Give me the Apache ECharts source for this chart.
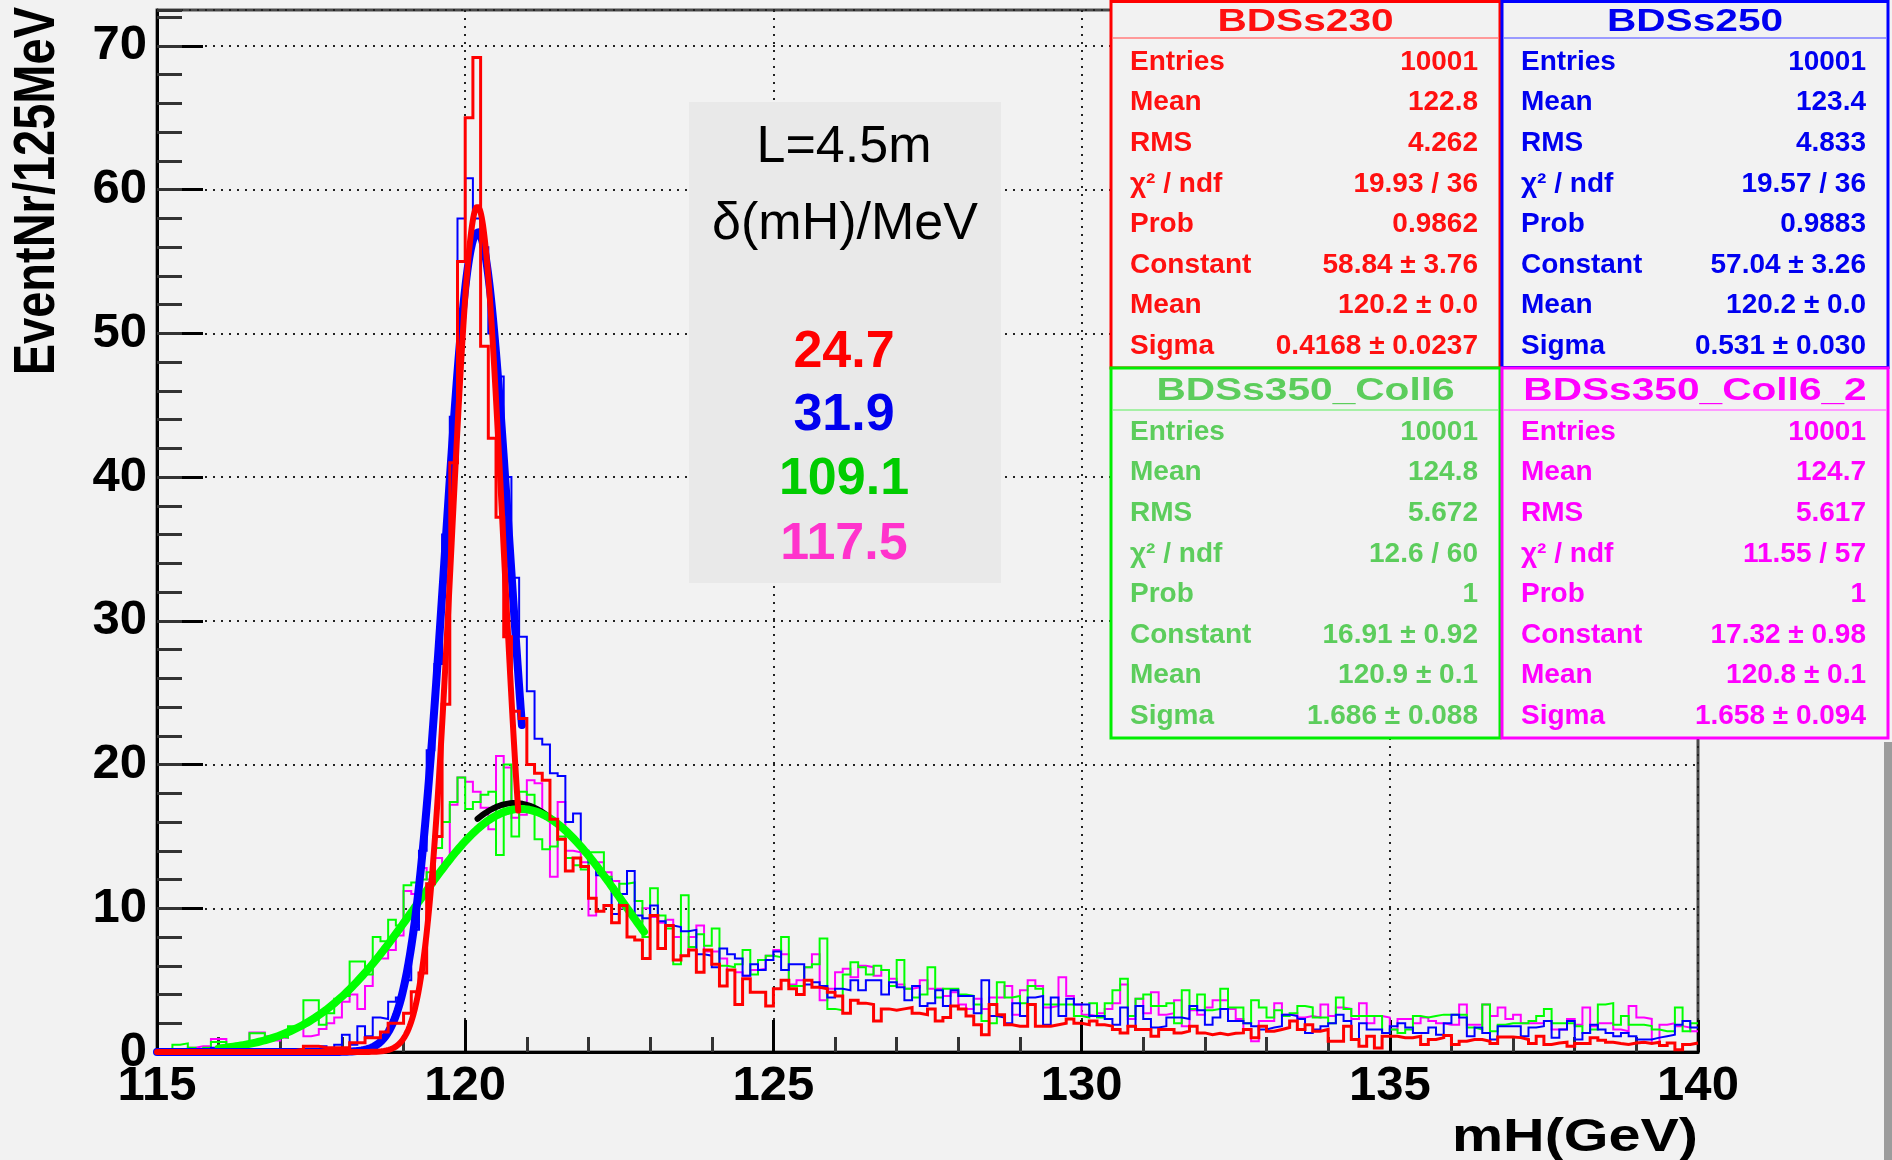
<!DOCTYPE html>
<html>
<head>
<meta charset="utf-8">
<script src="https://cdn.jsdelivr.net/npm/echarts/dist/echarts.min.js"></script>
<style>
  html, body { margin: 0; padding: 0; background: #f2f2f2; }
  #chart { width: 1892px; height: 1160px; }
</style>
</head>
<body>
<div id="chart"></div>
<script>
// Histogram binning: 200 bins of 125 MeV between 115 and 140 GeV
const BIN_LO = 115;
const BIN_W = 0.125;

// Bin contents (EventNr / 125 MeV) for the four beam-delivery configurations
const redCounts = [
  0,0,0,0,0,0,0,0,0,0,
  0,0,0,0,0,0,0.1,0.1,0.2,0.4,
  0.4,0.3,0.3,0.3,0.3,0.65,0.65,1.0,1.0,1.4,
  2.0,2.0,2.7,4.2,5.5,11.7,15.0,24.2,41.0,55.0,
  65.0,69.2,49.1,42.7,37.2,28.9,23.7,23.2,20.0,19.4,
  18.9,16.2,14.8,12.6,13.5,12.9,10.7,9.8,10.2,9.0,
  10.2,8.0,7.8,6.5,9.5,7.2,8.8,6.4,6.7,7.1,
  5.55,7.1,6.1,4.6,5.7,3.3,5.1,4.15,4.15,3.2,
  4.4,5.0,4.4,4.0,5.0,4.5,4.4,4.15,3.9,2.7,
  3.6,3.4,3.3,2.15,3.0,2.9,3.0,3.1,2.7,2.6,
  3.0,2.15,2.4,3.2,3.0,2.5,1.9,1.2,3.3,2.6,
  1.9,1.8,1.8,3.3,1.8,1.8,1.9,2.0,2.3,2.0,
  1.9,2.15,1.9,1.8,1.57,1.33,1.8,1.57,1.57,1.1,
  1.57,1.57,1.33,1.45,1.8,1.33,1.2,1.3,1.2,1.3,
  1.33,1.57,1.0,1.8,1.45,1.57,1.7,2.15,1.57,1.9,
  1.45,1.57,0.75,0.75,1.8,0.87,0.4,1.1,0.28,1.1,
  1.1,1.0,1.0,1.1,0.52,0.87,1.0,1.15,0.52,0.75,
  0.87,0.87,0.75,0.59,1.05,1.05,1.0,0.87,0.59,1.1,
  0.52,0.63,0.68,0.4,0.59,0.59,1.0,0.82,0.68,0.59,
  0.52,0.63,0.68,0.59,0.68,0.45,0.63,0.16,0.52,0.63
];

const blueCounts = [
  0,0,0.1,0,0.1,0,0.1,0.3,0.3,0.1,
  0,0.1,0.2,0.1,0.1,0.2,0.1,0.2,0.2,0.4,
  0.4,0.4,0.2,0.5,1.2,0.5,1.8,1.1,2.4,2.3,
  3.5,3.8,5.0,8.5,14.0,21.0,27.0,36.0,44.2,58.0,
  60.8,58.0,56.0,50.0,47.0,40.0,33.0,28.9,25.1,21.8,
  21.4,19.4,19.2,16.0,16.6,14.0,13.2,12.3,12.0,9.6,
  11.0,12.6,9.5,9.3,10.2,9.1,8.8,8.7,8.4,8.5,
  6.8,6.7,5.9,7.2,6.8,6.5,5.3,6.1,5.7,6.4,
  7.0,5.7,6.1,6.1,4.7,4.85,4.6,3.8,4.4,4.3,
  5.0,4.3,5.0,5.0,4.0,4.85,4.5,3.6,4.6,3.2,
  3.4,4.3,3.2,4.3,3.9,3.9,2.7,5.0,2.5,2.4,
  2.0,3.4,2.5,3.8,3.9,1.9,3.8,2.5,3.7,3.3,
  3.3,2.5,2.5,2.3,1.9,3.1,1.8,3.2,2.3,1.7,
  1.8,2.4,2.4,2.3,3.2,2.9,1.9,2.4,3.0,2.15,
  2.15,2.0,1.8,1.57,1.7,1.8,2.6,2.5,2.3,1.33,
  1.57,1.8,2.0,2.6,2.15,0.87,2.0,1.57,1.57,1.33,
  1.8,2.0,1.7,1.33,1.33,1.7,1.2,2.0,2.6,2.4,
  1.1,1.7,1.33,0.87,1.8,1.8,1.8,1.1,1.7,1.8,
  2.15,1.0,1.57,2.15,0.87,1.33,1.9,1.57,1.33,1.1,
  1.33,1.1,0.87,0.87,1.0,1.1,1.2,1.9,2.15,1.7
];

const greenCounts = [
  0.2,0.1,0.5,0.6,0.3,0.1,0.3,0.7,0.7,0.3,
  0.4,0.6,1.3,1.3,1.0,1.1,1.0,1.8,1.8,3.6,
  3.6,1.9,2.7,3.7,3.9,6.3,6.3,5.4,8.0,7.7,
  9.2,8.8,11.6,11.8,12.0,12.5,14.2,16.0,17.4,19.1,
  16.9,17.4,17.9,18.1,13.7,20.0,15.0,18.1,17.9,14.8,
  14.1,14.3,15.0,13.5,13.0,12.7,13.9,13.9,12.2,11.2,
  11.7,11.8,10.5,8.0,11.4,9.5,8.6,6.1,10.9,7.3,
  8.2,7.4,8.6,6.0,5.9,6.1,7.1,5.4,6.4,6.7,
  6.6,8.0,4.6,4.6,5.9,6.1,7.9,3.0,2.9,5.4,
  6.25,5.9,5.4,6.0,5.7,4.6,6.4,4.4,3.8,4.0,
  5.9,3.8,4.4,4.4,4.0,3.9,3.3,2.15,2.0,4.85,
  3.8,3.9,3.4,4.6,4.4,3.3,3.3,3.3,3.3,2.5,
  2.4,3.4,2.4,3.4,4.3,5.1,2.5,3.7,4.0,3.2,
  3.2,3.4,2.0,4.3,3.0,4.0,2.9,3.0,4.4,3.1,
  3.1,2.0,3.6,3.1,2.4,2.9,2.5,2.7,3.2,3.1,
  2.4,2.4,2.0,3.8,3.0,2.5,2.5,2.5,2.5,1.33,
  1.57,1.33,1.57,2.5,2.4,2.5,2.6,2.6,2.6,2.6,
  1.7,1.57,3.3,1.45,1.9,2.0,2.0,2.0,2.15,2.5,
  3.0,2.0,2.0,2.0,1.8,1.33,1.57,3.3,3.4,1.9,
  2.5,1.9,1.9,1.8,1.57,1.45,1.45,3.1,1.45,2.0
];

const magentaCounts = [
  0.1,0.1,0.2,0.1,0.3,0.4,0.4,0.9,0.9,0.5,
  0.3,0.5,1.35,1.35,1.1,0.8,1.0,1.7,1.7,1.1,
  1.2,1.6,2.0,2.4,3.5,4.0,3.0,4.6,6.5,6.5,
  7.1,8.1,11.2,11.0,12.8,12.0,13.5,13.1,17.2,19.1,
  18.8,18.1,17.0,15.5,20.6,19.8,16.3,16.5,18.9,18.7,
  16.5,12.2,17.4,14.0,13.9,13.2,9.5,13.2,12.5,11.9,
  10.0,9.5,9.1,10.0,9.4,9.0,9.2,8.0,6.7,8.0,
  8.8,7.0,7.0,6.5,5.7,5.55,5.3,5.7,5.8,6.7,
  7.1,6.8,4.7,5.0,5.9,6.8,3.6,4.4,5.55,5.8,
  5.2,6.0,5.9,5.3,5.7,5.1,4.7,4.4,4.5,5.0,
  4.4,4.4,3.9,4.15,3.3,3.0,3.7,3.0,3.8,3.8,
  4.6,2.6,4.3,5.0,4.6,3.1,3.2,5.2,3.9,3.3,
  2.6,2.5,2.7,3.0,3.4,4.7,2.3,3.7,2.7,4.15,
  2.6,2.7,3.6,1.8,2.9,2.6,3.1,3.6,3.6,3.0,
  2.3,1.57,0.75,2.15,2.15,3.4,2.6,2.7,2.4,2.5,
  2.4,3.3,2.5,3.1,3.0,2.3,3.4,2.0,2.5,2.4,
  1.57,2.3,2.3,2.0,2.4,2.15,2.0,1.9,1.9,3.3,
  1.9,1.9,3.3,2.5,3.1,2.3,2.6,2.0,2.0,2.0,
  2.15,1.57,1.57,2.3,1.9,3.1,1.8,2.0,2.0,1.57,
  1.45,3.2,2.4,2.3,0.63,1.9,2.0,1.8,1.7,1.45
];

// Histogram names and statistics (order: red, blue, green, magenta)
const histNames = ['BDSs230', 'BDSs250', 'BDSs350_Coll6', 'BDSs350_Coll6_2'];
const entries = ['10001', '10001', '10001', '10001'];
const histMean = ['122.8', '123.4', '124.8', '124.7'];
const histRms = ['4.262', '4.833', '5.672', '5.617'];
const chi2Ndf = ['19.93 / 36', '19.57 / 36', '12.6 / 60', '11.55 / 57'];
const fitProb = ['0.9862', '0.9883', '1', '1'];

// Gaussian fit results
const fitConstant = [58.84, 57.04, 16.91, 17.32];
const fitConstantErr = ['3.76', '3.26', '0.92', '0.98'];
const fitMean = [120.2, 120.2, 120.9, 120.8];
const fitMeanErr = ['0.0', '0.0', '0.1', '0.1'];
const fitSigma = [0.4168, 0.531, 1.686, 1.658];
const fitSigmaErr = ['0.0237', '0.030', '0.088', '0.094'];
const fitRange = [[115, 120.86], [115, 120.92], [116, 122.9], [120.2, 121.5]];

// Mass resolution per configuration
const resolutionMeV = ['24.7', '31.9', '109.1', '117.5'];

const FONT = '"Liberation Sans", Arial, Helvetica, sans-serif';

function histData(counts) {
  const pts = counts.map((c, i) => [BIN_LO + i * BIN_W, c]);
  pts.push([BIN_LO + counts.length * BIN_W, counts[counts.length - 1]]);
  return pts;
}

function fitCurve(k) {
  const pts = [];
  const [a, b] = fitRange[k];
  const n = Math.round((b - a) / 0.01);
  for (let j = 0; j <= n; j++) {
    const x = a + (b - a) * j / n;
    const z = (x - fitMean[k]) / fitSigma[k];
    pts.push([x, fitConstant[k] * Math.exp(-0.5 * z * z)]);
  }
  return pts;
}

function histSeries(name, counts, color, width) {
  return {
    name, type: 'line', step: 'end', data: histData(counts),
    symbol: 'none', showSymbol: false, silent: true,
    lineStyle: { color, width, join: 'miter' }
  };
}

function fitSeries(name, k, color, width) {
  return {
    name, type: 'line', data: fitCurve(k),
    symbol: 'none', showSymbol: false, silent: true,
    lineStyle: { color, width, cap: 'round', join: 'round' }
  };
}

// Statistics boxes
const statLabels = ['Entries', 'Mean', 'RMS', 'χ² / ndf', 'Prob', 'Constant', 'Mean', 'Sigma'];
const boxes = [
  { x: 1111, y: 1.5, w: 389, h: 366.5, sep: 38, rowTop: 62, border: '#ff0000', text: '#ff1010', line: '#ff9a9a' },
  { x: 1502, y: 1.5, w: 386, h: 366, sep: 38, rowTop: 62, border: '#0000ff', text: '#0000f0', line: '#9a9aff' },
  { x: 1111, y: 368, w: 389, h: 370, sep: 410, rowTop: 432, border: '#00ee00', text: '#5ccd5c', line: '#a6f0a6' },
  { x: 1502, y: 368, w: 386, h: 370, sep: 410, rowTop: 432, border: '#ff00ff', text: '#ff00ff', line: '#ff9aff' }
];

const graphics = [];
boxes.forEach((b, k) => {
  const values = [
    entries[k], histMean[k], histRms[k], chi2Ndf[k], fitProb[k],
    fitConstant[k] + ' ± ' + fitConstantErr[k],
    fitMean[k].toFixed(1) + ' ± ' + fitMeanErr[k],
    fitSigma[k] + ' ± ' + fitSigmaErr[k]
  ];
  graphics.push({
    type: 'rect', z: 100,
    shape: { x: b.x, y: b.y, width: b.w, height: b.h },
    style: { fill: '#f2f2f2', stroke: b.border, lineWidth: 3 }
  });
  graphics.push({
    type: 'line', z: 101,
    shape: { x1: b.x + 2, y1: b.sep, x2: b.x + b.w - 2, y2: b.sep },
    style: { stroke: b.line, lineWidth: 2 }
  });
  graphics.push({
    type: 'text', z: 102, x: b.x + b.w / 2, y: (b.y + b.sep) / 2 + 2, scaleX: 1.27,
    style: { text: histNames[k], font: 'bold 32px ' + FONT, fill: b.text, align: 'center', verticalAlign: 'middle' }
  });
  statLabels.forEach((lab, i) => {
    const yy = b.rowTop + i * 40.6;
    graphics.push({
      type: 'text', z: 102, x: b.x + 19, y: yy,
      style: { text: lab, font: 'bold 28px ' + FONT, fill: b.text, align: 'left', verticalAlign: 'middle' }
    });
    graphics.push({
      type: 'text', z: 102, x: b.x + b.w - 22, y: yy,
      style: { text: values[i], font: 'bold 28px ' + FONT, fill: b.text, align: 'right', verticalAlign: 'middle' }
    });
  });
});

// Resolution summary box
const resColors = ['#ff0000', '#0000ee', '#00cc00', '#ff33cc'];
graphics.push({
  type: 'rect', z: 90,
  shape: { x: 689, y: 102, width: 312, height: 481 },
  style: { fill: '#e9e9e9' }
});
graphics.push({
  type: 'text', z: 91, x: 844, y: 148,
  style: { text: 'L=4.5m', font: '52px ' + FONT, fill: '#000', align: 'center', verticalAlign: 'middle' }
});
graphics.push({
  type: 'text', z: 91, x: 845, y: 225,
  style: { text: 'δ(mH)/MeV', font: '52px ' + FONT, fill: '#000', align: 'center', verticalAlign: 'middle' }
});
resolutionMeV.forEach((r, i) => {
  graphics.push({
    type: 'text', z: 91, x: 844, y: [353, 416, 480, 545][i],
    style: { text: r, font: 'bold 52px ' + FONT, fill: resColors[i], align: 'center', verticalAlign: 'middle' }
  });
});

// Axis titles
graphics.push({
  type: 'text', z: 50, x: 38, y: 7, rotation: Math.PI / 2, scaleY: 1.23,
  style: { text: 'EventNr/125MeV', font: 'bold 47px ' + FONT, fill: '#000', align: 'right', verticalAlign: 'middle' }
});
graphics.push({
  type: 'text', z: 50, x: 1698, y: 1138, scaleX: 1.25,
  style: { text: 'mH(GeV)', font: 'bold 46px ' + FONT, fill: '#000', align: 'right', verticalAlign: 'middle' }
});

// Canvas edge
graphics.push({
  type: 'rect', z: 50,
  shape: { x: 1884, y: 742, width: 8, height: 418 },
  style: { fill: '#9c9c9c' }
});

const chart = echarts.init(document.getElementById('chart'), null, { renderer: 'canvas' });

chart.setOption({
  animation: false,
  backgroundColor: '#f2f2f2',
  grid: {
    left: 157, right: 194, top: 10, bottom: 108,
    show: true, borderColor: '#4a4a4a', borderWidth: 3, backgroundColor: 'transparent',
    containLabel: false, outerBoundsMode: 'none'
  },
  xAxis: {
    type: 'value', min: 115, max: 140, interval: 5,
    axisLine: { show: true, onZero: false, lineStyle: { color: '#000', width: 3 } },
    axisTick: { show: true, inside: true, length: 32, lineStyle: { color: '#000', width: 3 } },
    minorTick: { show: true, splitNumber: 5, length: 15, lineStyle: { color: '#333', width: 3 } },
    splitLine: { show: true, lineStyle: { color: '#222', width: 2, type: [2, 6] } },
    axisLabel: { fontSize: 49, fontWeight: 'bold', color: '#000', margin: 10, fontFamily: FONT }
  },
  yAxis: [
    {
      type: 'value', min: 0, max: 72.5, interval: 10, position: 'left',
      axisLine: { show: true, onZero: false, lineStyle: { color: '#000', width: 3 } },
      axisTick: { show: true, inside: true, length: 46, lineStyle: { color: '#000', width: 3 } },
      axisLabel: {
        formatter: v => (v % 10 === 0 ? String(v) : ''),
        showMaxLabel: false,
        fontSize: 49, fontWeight: 'bold', color: '#000', margin: 10, fontFamily: FONT
      },
      splitLine: { show: true, lineStyle: { color: '#222', width: 2, type: [2, 6] } }
    },
    {
      type: 'value', min: 0, max: 72.5, interval: 2, position: 'left',
      axisLine: { show: false },
      axisTick: { show: true, inside: true, length: 25, lineStyle: { color: '#333', width: 3 } },
      axisLabel: { show: false },
      splitLine: { show: false }
    }
  ],
  series: [
    histSeries('BDSs350_Coll6_2', magentaCounts, '#ff00ff', 2),
    histSeries('BDSs350_Coll6', greenCounts, '#00ff00', 2),
    histSeries('BDSs250', blueCounts, '#0000ff', 2),
    fitSeries('fit BDSs350_Coll6_2', 3, '#000000', 6),
    fitSeries('fit BDSs350_Coll6', 2, '#00ff00', 8),
    fitSeries('fit BDSs250', 1, '#0000ff', 8),
    histSeries('BDSs230', redCounts, '#ff0000', 3),
    fitSeries('fit BDSs230', 0, '#ff0000', 6)
  ],
  graphic: { elements: graphics }
});
</script>
</body>
</html>
